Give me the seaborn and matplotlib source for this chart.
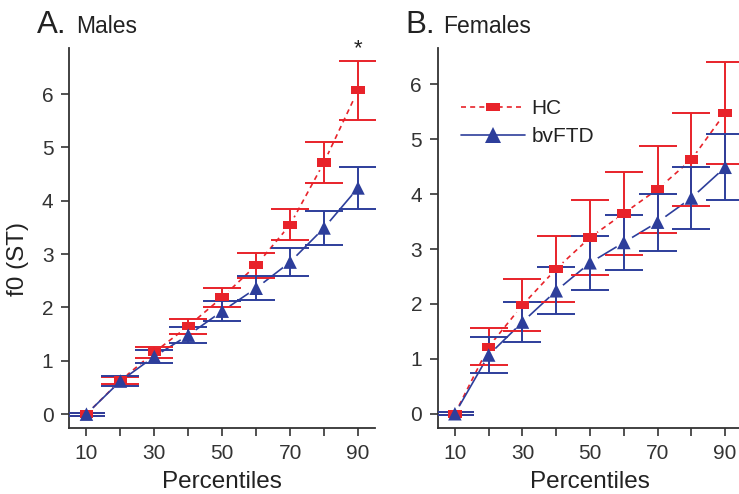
import matplotlib
matplotlib.use("Agg")
import pandas as pd
import matplotlib.pyplot as plt
import seaborn as sns
from matplotlib.lines import Line2D

# percentile steps on the x axis
percentiles = [10, 20, 30, 40, 50, 60, 70, 80, 90]

# Males: mean f0 (ST) and error bar half-widths
males_hc = [0.0, 0.63, 1.16, 1.65, 2.19, 2.79, 3.55, 4.72, 6.07]
males_hc_err = [0.03, 0.06, 0.10, 0.14, 0.18, 0.23, 0.29, 0.39, 0.55]
males_ftd = [0.0, 0.62, 1.08, 1.48, 1.93, 2.36, 2.85, 3.49, 4.24]
males_ftd_err = [0.03, 0.10, 0.12, 0.15, 0.19, 0.22, 0.26, 0.32, 0.39]

# Females
females_hc = [0.0, 1.22, 1.98, 2.64, 3.21, 3.65, 4.09, 4.63, 5.48]
females_hc_err = [0.03, 0.34, 0.47, 0.60, 0.69, 0.75, 0.79, 0.85, 0.93]
females_ftd = [0.0, 1.07, 1.67, 2.24, 2.75, 3.12, 3.49, 3.93, 4.49]
females_ftd_err = [0.03, 0.33, 0.37, 0.43, 0.49, 0.50, 0.52, 0.57, 0.60]

groups = ['HC', 'bvFTD']
RED = '#E8232A'
BLUE = '#2D3E9B'
palette = {'HC': RED, 'bvFTD': BLUE}
rect = [(-1, -0.62), (1, -0.62), (1, 0.62), (-1, 0.62)]
markers = {'HC': rect, 'bvFTD': '^'}

sns.set_style("ticks")
plt.rcParams['font.family'] = ['Liberation Sans', 'DejaVu Sans']
plt.rcParams['axes.edgecolor'] = '#333333'
plt.rcParams['axes.linewidth'] = 1.3
plt.rcParams['xtick.color'] = '#333333'
plt.rcParams['ytick.color'] = '#333333'
plt.rcParams['text.color'] = '#222222'
plt.rcParams['axes.labelcolor'] = '#222222'


def make_df(hc, hc_err, ftd, ftd_err):
    return pd.DataFrame({
        'Percentile': percentiles * 2,
        'f0': hc + ftd,
        'err': hc_err + ftd_err,
        'Group': ['HC'] * len(percentiles) + ['bvFTD'] * len(percentiles),
    })


def draw_panel(ax, df, ylim):
    for grp, z in zip(groups, [1, 2]):
        sub = df[df['Group'] == grp]
        # connecting line
        sns.lineplot(data=sub, x='Percentile', y='f0', color=palette[grp],
                     lw=1.2, ax=ax, legend=False, zorder=z)
        if grp == 'HC':
            ax.lines[-1].set_dashes((3, 2.5))
        # white discs leave a gap in the line around each point
        sns.scatterplot(data=sub, x='Percentile', y='f0', color='white',
                        s=170, linewidth=0, ax=ax, legend=False, zorder=z + 0.5)
    for grp in groups:
        sub = df[df['Group'] == grp]
        ax.errorbar(sub['Percentile'], sub['f0'], yerr=sub['err'], fmt='none',
                    ecolor=palette[grp], elinewidth=1.4, capsize=13.5,
                    capthick=1.4, zorder=3)
    sns.scatterplot(data=df, x='Percentile', y='f0', hue='Group', style='Group',
                    palette=palette, markers=markers, s=95, linewidth=0,
                    ax=ax, legend=False, zorder=4)
    ax.set_xlim(5, 95)
    ax.set_ylim(*ylim)
    ax.set_xticks(percentiles)
    ax.set_xticklabels(['10', '', '30', '', '50', '', '70', '', '90'])
    ax.set_yticks(range(0, 7))
    ax.tick_params(labelsize=15, length=5.5, width=1.2, pad=6)
    ax.set_xlabel('Percentiles', fontsize=17.5, labelpad=6)
    ax.set_ylabel('')
    sns.despine(ax=ax)


fig = plt.figure(figsize=(7.39, 4.94), dpi=100)
ax1 = fig.add_axes([0.0940, 0.1336, 0.4134, 0.770])
ax2 = fig.add_axes([0.5927, 0.1336, 0.4114, 0.770])

males = make_df(males_hc, males_hc_err, males_ftd, males_ftd_err)
females = make_df(females_hc, females_hc_err, females_ftd, females_ftd_err)

draw_panel(ax1, males, (-0.26, 6.87))
draw_panel(ax2, females, (-0.26, 6.67))

# significance marker above the 90th percentile in males
ax1.annotate('*', xy=(90, males_hc[-1] + males_hc_err[-1]), xytext=(0, 1),
             textcoords='offset points', ha='center', va='bottom', fontsize=16)

fig.text(0.024, 0.5 - 12 / 494, 'f0 (ST)', rotation=90, ha='center', va='center',
         fontsize=17.5)

fig.text(0.050, 0.9326, 'A.', fontsize=22.5, va='baseline')
fig.text(0.103, 0.9326, 'Males', fontsize=16.5, va='baseline')
fig.text(0.548, 0.9326, 'B.', fontsize=22.5, va='baseline')
fig.text(0.599, 0.9326, 'Females', fontsize=16.5, va='baseline')

handles = [
    Line2D([], [], color=RED, lw=1.2, dashes=(3, 2.5), marker=rect,
           markersize=10, markeredgewidth=0),
    Line2D([], [], color=BLUE, lw=1.2, marker='^', markersize=11.5,
           markeredgewidth=0),
]
ax2.legend(handles, groups, loc='upper left', bbox_to_anchor=(0.075, 0.865),
           frameon=False, fontsize=15, handlelength=3.1, handletextpad=0.3,
           labelspacing=0.45, borderpad=0, borderaxespad=0)

fig.savefig('out.png', dpi=100)
